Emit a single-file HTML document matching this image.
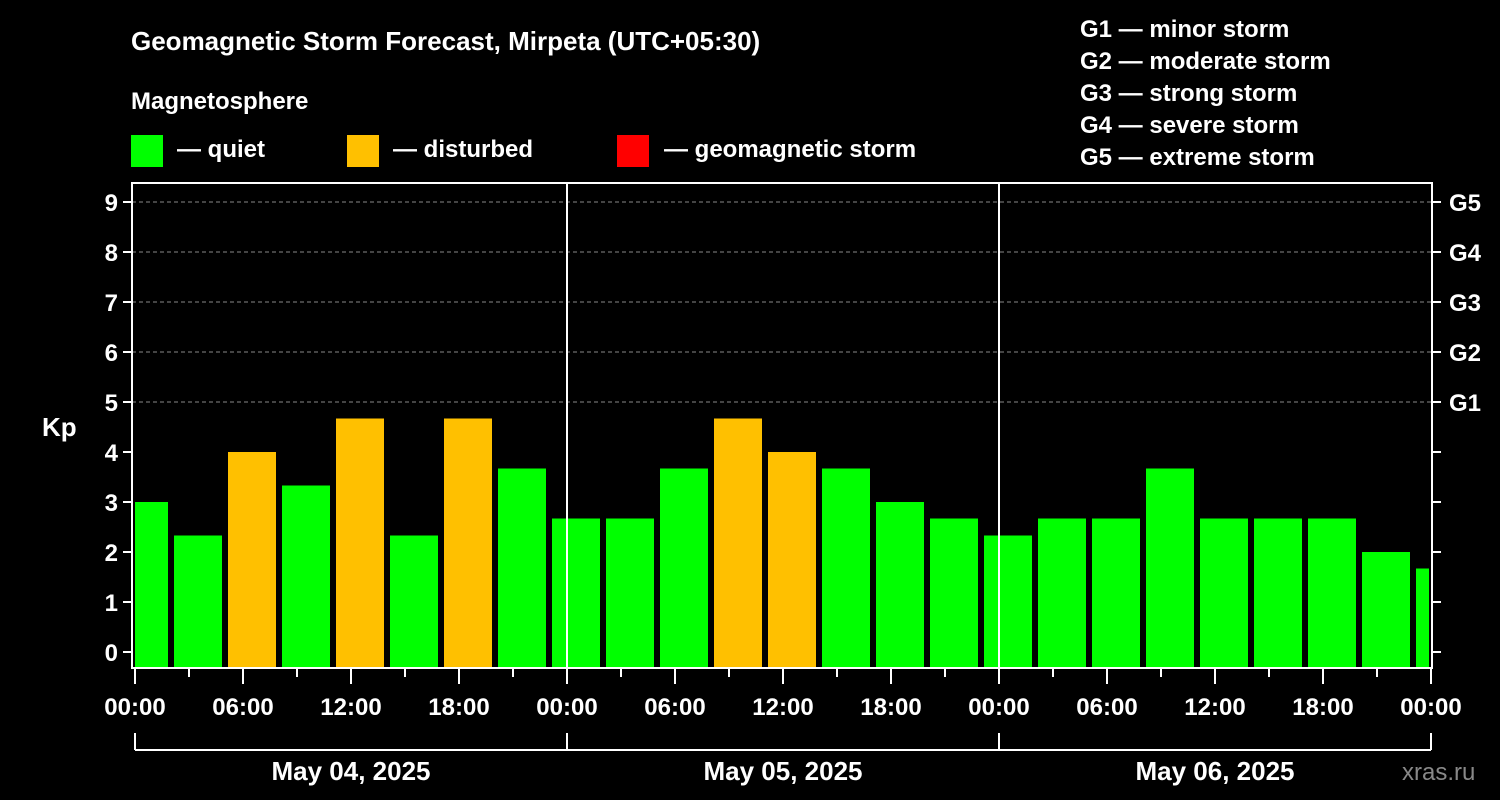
<!DOCTYPE html>
<html><head><meta charset="utf-8"><style>
html,body{margin:0;padding:0;background:#000;}
svg{display:block;font-family:"Liberation Sans",Arial,sans-serif;font-weight:bold;}
</style></head><body>
<svg id="c" width="1500" height="800" viewBox="0 0 1500 800">
<text x="131" y="50" fill="#fff" font-size="26">Geomagnetic Storm Forecast, Mirpeta (UTC+05:30)</text>
<text x="131" y="109" fill="#fff" font-size="24">Magnetosphere</text>
<g><rect x="131" y="135" width="32" height="32" fill="#00ff00"/><text x="177" y="157" fill="#fff" font-size="24">— quiet</text></g>
<g><rect x="347" y="135" width="32" height="32" fill="#ffc000"/><text x="393" y="157" fill="#fff" font-size="24">— disturbed</text></g>
<g><rect x="617" y="135" width="32" height="32" fill="#ff0000"/><text x="664" y="157" fill="#fff" font-size="24">— geomagnetic storm</text></g>
<g fill="#fff" font-size="24">
<text x="1080" y="37">G1 — minor storm</text>
<text x="1080" y="69">G2 — moderate storm</text>
<text x="1080" y="101">G3 — strong storm</text>
<text x="1080" y="133">G4 — severe storm</text>
<text x="1080" y="165">G5 — extreme storm</text>
</g>
<text x="42" y="436" fill="#fff" font-size="26">Kp</text>
<text x="1402" y="780" fill="#888" font-size="24" font-weight="normal">xras.ru</text>
<g id="plot"></g>
</svg>
<script>
const values=[3.0,2.33,4.0,3.33,4.67,2.33,4.67,3.67,2.67,2.67,3.67,4.67,4.0,3.67,3.0,2.67,2.33,2.67,2.67,3.67,2.67,2.67,2.67,2.0,1.67];
const yTicks=[0,1,2,3,4,5,6,7,8,9];
const gLabels=["G1","G2","G3","G4","G5"];
const gLevels=[5,6,7,8,9];
const hourLabels=["00:00","06:00","12:00","18:00"];
const dayLabels=["May 04, 2025","May 05, 2025","May 06, 2025"];
const NS="http://www.w3.org/2000/svg";
const X0=135,PXH=18,Y0=652,PXU=50,TOP=183,BOT=668,LEFT=132,RIGHT=1432;
const x=h=>X0+h*PXH, y=v=>Y0-v*PXU;
const p=document.getElementById('plot');
function mk(t,a,parent){const e=document.createElementNS(NS,t);for(const k in a)e.setAttribute(k,a[k]);(parent||p).appendChild(e);return e;}
// grid
gLevels.forEach(v=>{const l=mk('line',{x1:LEFT,x2:RIGHT,y1:y(v),y2:y(v),stroke:'#888','stroke-dasharray':'4,3','stroke-width':1});

});
// bars
values.forEach((v,i)=>{const c=0.5+3*i,w=48/PXH;let l=x(c-w/2),r=x(c+w/2);l=Math.max(l,LEFT+3);r=Math.min(r,RIGHT-3);
const col=v>=5?'#ff0000':(v>=4?'#ffc000':'#00ff00');
const b=mk('rect',{x:l,y:y(v),width:r-l,height:BOT-y(v),fill:col});

});
// day separators
[1,2].forEach(d=>{const l=mk('line',{x1:x(24*d),x2:x(24*d),y1:TOP,y2:BOT,stroke:'#fff','stroke-width':2});

});
// frame
const f=mk('rect',{x:LEFT,y:TOP,width:RIGHT-LEFT,height:BOT-TOP,fill:'none',stroke:'#fff','stroke-width':2});


// y ticks
yTicks.forEach(v=>{mk('line',{x1:LEFT-9,x2:LEFT,y1:y(v),y2:y(v),stroke:'#fff','stroke-width':2});
mk('line',{x1:RIGHT,x2:RIGHT+9,y1:y(v),y2:y(v),stroke:'#fff','stroke-width':2});
const t=mk('text',{x:LEFT-14,y:y(v)+9,fill:'#fff','font-size':24,'text-anchor':'end'});t.textContent=v;

});
gLevels.forEach((v,i)=>{const t=mk('text',{x:1449,y:y(v)+9,fill:'#fff','font-size':24});t.textContent=gLabels[i];

});
// x ticks
for(let h=0;h<=72;h+=3){const major=h%6===0;mk('line',{x1:x(h),x2:x(h),y1:BOT,y2:BOT+(major?16:9),stroke:'#fff','stroke-width':2});}
for(let h=0;h<=72;h+=6){const t=mk('text',{x:x(h),y:715,fill:'#fff','font-size':24,'text-anchor':'middle'});t.textContent=hourLabels[(h/6)%4];

}
// day bracket
mk('line',{x1:x(0),x2:x(72),y1:750,y2:750,stroke:'#fff','stroke-width':2});
for(let d=0;d<=3;d++)mk('line',{x1:x(24*d),x2:x(24*d),y1:733,y2:750,stroke:'#fff','stroke-width':2});
dayLabels.forEach((s,d)=>{const t=mk('text',{x:x(24*d+12),y:780,fill:'#fff','font-size':26,'text-anchor':'middle'});t.textContent=s;

});
</script>
</body></html>
